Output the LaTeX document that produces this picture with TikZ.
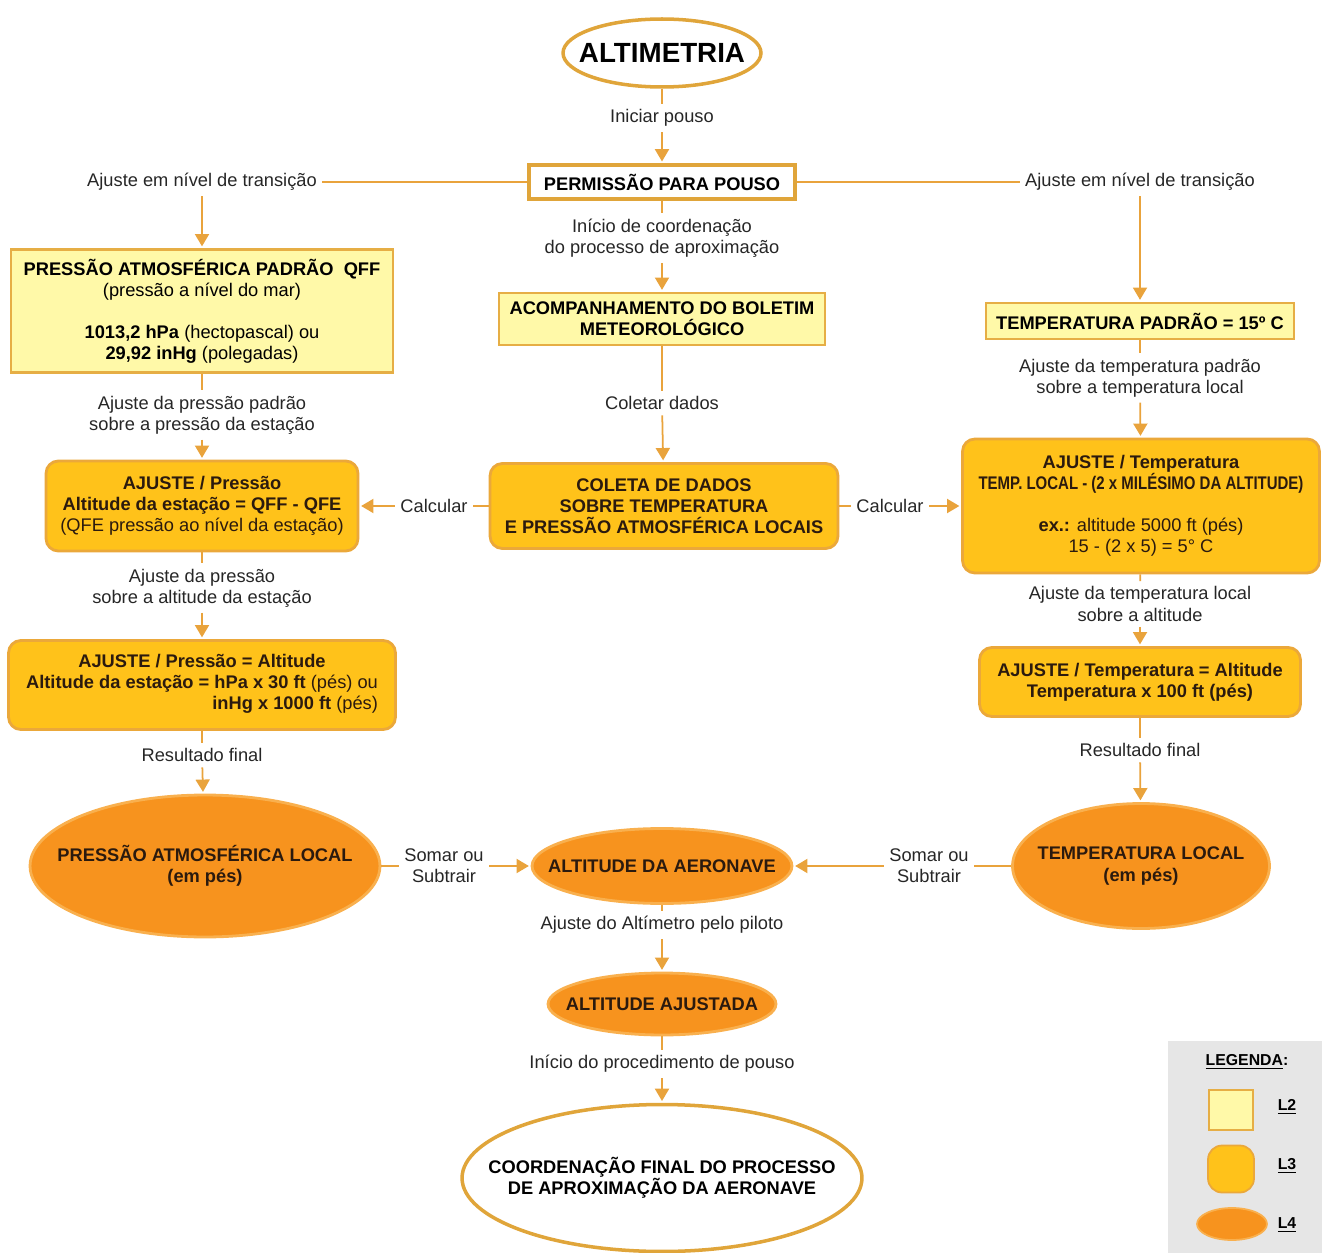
\documentclass[tikz,border=0pt]{standalone}
\usepackage{fontspec}
\setsansfont{Liberation Sans}
\usetikzlibrary{shapes.geometric, arrows.meta, positioning}

\definecolor{lnor}{HTML}{E9A33C}
\definecolor{brdw}{HTML}{E0A53A}
\definecolor{filltwo}{HTML}{FFF9A8}
\definecolor{brdtwo}{HTML}{E6AE45}
\definecolor{fillthree}{HTML}{FFC21A}
\definecolor{brdthree}{HTML}{EBA83A}
\definecolor{fillfour}{HTML}{F7931E}
\definecolor{brdfour}{HTML}{F9B04E}
\definecolor{txtdark}{HTML}{2B1A0E}
\definecolor{legbg}{HTML}{E6E6E6}

\begin{document}
\begin{tikzpicture}[
    x=0.02cm, y=-0.02cm,
    font=\sffamily\fontsize{10.4}{12}\selectfont,
    nd/.style={align=center, inner sep=0pt, line width=1.6pt},
    wbox/.style={nd, draw=brdw, fill=white, line width=2pt, font=\sffamily\bfseries\fontsize{10.4}{12}\selectfont},
    wel/.style={nd, ellipse, draw=brdw, fill=white, line width=2pt},
    lvtwo/.style={nd, draw=brdtwo, fill=filltwo, font=\sffamily\bfseries\fontsize{10.4}{12}\selectfont},
    lvthree/.style={nd, rounded corners=7pt, draw=brdthree, fill=fillthree, text=txtdark, font=\sffamily\bfseries\fontsize{10.4}{12}\selectfont},
    lvfour/.style={nd, ellipse, draw=brdfour, fill=fillfour},
    etxt/.style={align=center, text=txtdark, font=\sffamily\bfseries\fontsize{10.4}{12}\selectfont},
    lbl/.style={align=center, inner sep=3pt, text=black!85},
    ln/.style={draw=lnor, line width=1pt},
    ar/.style={ln, -{Triangle[width=8pt, length=7pt]}, shorten >=1pt}
]
\useasboundingbox (0,0) rectangle (1322,1253);

% titulo e permissao
\node[wel, minimum width=3.96cm, minimum height=1.36cm,
      label={[etxt, text=black, font=\sffamily\bfseries\fontsize{15.8}{18}\selectfont]center:ALTIMETRIA}] (alt) at (662,53) {};
\node[lbl] (ini) at (662,118) {Iniciar pouso};
\node[wbox, minimum width=5.32cm, minimum height=0.68cm] (perm) at (662,182) {PERMISSÃO PARA POUSO};

% coluna esquerda: pressao
\node[lbl] (ajL) at (202,182) {Ajuste em nível de transição};
\node[lvtwo, minimum width=7.64cm, minimum height=2.46cm] (qff) at (202,311)
  {PRESSÃO ATMOSFÉRICA PADRÃO\ \ QFF\\
   \textmd{(pressão a nível do mar)}\\[12pt]
   1013,2 hPa \textmd{(hectopascal) ou}\\
   29,92 inHg \textmd{(polegadas)}};
\node[lbl] (ajp1) at (202,415) {Ajuste da pressão padrão\\sobre a pressão da estação};
\node[lvthree, minimum width=6.24cm, minimum height=1.8cm] (ajp) at (202,506)
  {AJUSTE / Pressão\\
   Altitude da estação = QFF - QFE\\
   \textmd{(QFE pressão ao nível da estação)}};
\node[lbl] (ajp2) at (202,588) {Ajuste da pressão\\sobre a altitude da estação};
\node[lvthree, minimum width=7.74cm, minimum height=1.78cm] (ajpa) at (202,685)
  {AJUSTE / Pressão = Altitude\\
   \begin{tabular}[t]{@{}r@{}}
   Altitude da estação = hPa x 30 ft \textmd{(pés) ou}\\
   inHg x 1000 ft \textmd{(pés)}
   \end{tabular}};
\node[lbl] (resL) at (202,755) {Resultado final};
\node[lvfour, minimum width=7cm, minimum height=2.84cm,
      label={[etxt]center:PRESSÃO ATMOSFÉRICA LOCAL\\(em pés)}] (plocal) at (205,866) {};

% coluna central
\node[lbl] (coord) at (662,238) {Início de coordenação\\do processo de aproximação};
\node[lvtwo, minimum width=6.52cm, minimum height=1.04cm] (acomp) at (662,319)
  {ACOMPANHAMENTO DO BOLETIM\\METEOROLÓGICO};
\node[lbl] (colet) at (662,403) {Coletar dados};
\node[lvthree, minimum width=6.96cm, minimum height=1.7cm] (coleta) at (664,506)
  {COLETA DE DADOS\\SOBRE TEMPERATURA\\E PRESSÃO ATMOSFÉRICA LOCAIS};
\node[lbl] (calcL) at (434,506) {Calcular};
\node[lbl] (calcR) at (890,506) {Calcular};
\node[lvfour, minimum width=5.2cm, minimum height=1.5cm,
      label={[etxt]center:ALTITUDE DA AERONAVE}] (aero) at (662,866) {};
\node[lbl] (somL) at (444,866) {Somar ou\\Subtrair};
\node[lbl] (somR) at (929,866) {Somar ou\\Subtrair};
\node[lbl] (ajalt) at (662,925) {Ajuste do Altímetro pelo piloto};
\node[lvfour, minimum width=4.56cm, minimum height=1.24cm,
      label={[etxt]center:ALTITUDE AJUSTADA}] (ajust) at (662,1004) {};
\node[lbl] (inicio) at (662,1064) {Início do procedimento de pouso};
\node[wel, minimum width=8cm, minimum height=2.94cm,
      label={[etxt, text=black]center:COORDENAÇÃO FINAL DO PROCESSO\\DE APROXIMAÇÃO DA AERONAVE}] (final) at (662,1178) {};

% coluna direita: temperatura
\node[lbl] (ajR) at (1140,182) {Ajuste em nível de transição};
\node[lvtwo, minimum width=6.16cm, minimum height=0.72cm] (tpad) at (1140,321)
  {TEMPERATURA PADRÃO = 15º C};
\node[lbl] (ajt1) at (1140,378) {Ajuste da temperatura padrão\\sobre a temperatura local};
\node[lvthree, minimum width=7.14cm, minimum height=2.68cm] (ajt) at (1141,506)
  {AJUSTE / Temperatura\\
   \scalebox{0.82}[1]{TEMP. LOCAL - (2 x MILÉSIMO DA ALTITUDE)}\\[12pt]
   ex.: \textmd{altitude 5000 ft (pés)}\\
   \textmd{15 - (2 x 5) = 5° C}};
\node[lbl] (ajt2) at (1140,604) {Ajuste da temperatura local\\sobre a altitude};
\node[lvthree, minimum width=6.42cm, minimum height=1.38cm] (ajta) at (1140,682)
  {AJUSTE / Temperatura = Altitude\\Temperatura x 100 ft (pés)};
\node[lbl] (resR) at (1140,750) {Resultado final};
\node[lvfour, minimum width=5.14cm, minimum height=2.5cm,
      label={[etxt]center:TEMPERATURA LOCAL\\(em pés)}] (tlocal) at (1141,866) {};

% ligacoes
\draw[ln] (alt) -- (ini);
\draw[ar] (ini) -- (perm);
\draw[ln] (perm) -- (ajL);
\draw[ln] (perm) -- (ajR);
\draw[ln] (perm) -- (coord);
\draw[ar] (coord) -- (acomp);
\draw[ln] (acomp) -- (colet);
\draw[ar] (colet) -- (coleta);

\draw[ar] (ajL) -- (qff);
\draw[ln] (qff) -- (ajp1);
\draw[ar] (ajp1) -- (ajp);
\draw[ln] (ajp) -- (ajp2);
\draw[ar] (ajp2) -- (ajpa);
\draw[ln] (ajpa) -- (resL);
\draw[ar] (resL) -- (plocal);

\draw[ar] (ajR) -- (tpad);
\draw[ln] (tpad) -- (ajt1);
\draw[ar] (ajt1) -- (ajt);
\draw[ln] (ajt) -- (ajt2);
\draw[ar] (ajt2) -- (ajta);
\draw[ln] (ajta) -- (resR);
\draw[ar] (resR) -- (tlocal);

\draw[ln] (coleta) -- (calcL);
\draw[ar] (calcL) -- (ajp);
\draw[ln] (coleta) -- (calcR);
\draw[ar] (calcR) -- (ajt);

\draw[ln] (plocal) -- (somL);
\draw[ar] (somL) -- (aero);
\draw[ln] (tlocal) -- (somR);
\draw[ar] (somR) -- (aero);
\draw[ln] (aero) -- (ajalt);
\draw[ar] (ajalt) -- (ajust);
\draw[ln] (ajust) -- (inicio);
\draw[ar] (inicio) -- (final);

% legenda
\node[fill=legbg, inner sep=0pt, minimum width=3.08cm, minimum height=4.24cm] (leg) at (1245,1147) {};
\node[font=\sffamily\bfseries\fontsize{9}{11}\selectfont] (legt) at (1247,1062) {\underline{LEGENDA}:};
\node[lvtwo, line width=1pt, minimum width=0.88cm, minimum height=0.8cm] (kII) at (1231,1110) {};
\node[lvthree, line width=1pt, rounded corners=8pt, minimum width=0.92cm, minimum height=0.94cm] (kIII) at (1231,1169) {};
\node[lvfour, line width=1pt, minimum width=1.4cm, minimum height=0.64cm] (kIV) at (1232,1224) {};
\node[font=\sffamily\bfseries\fontsize{9}{11}\selectfont] (tII) at (1287,1107) {\underline{L2}};
\node[font=\sffamily\bfseries\fontsize{9}{11}\selectfont] (tIII) at (1287,1166) {\underline{L3}};
\node[font=\sffamily\bfseries\fontsize{9}{11}\selectfont] (tIV) at (1287,1225) {\underline{L4}};
\end{tikzpicture}
\end{document}
